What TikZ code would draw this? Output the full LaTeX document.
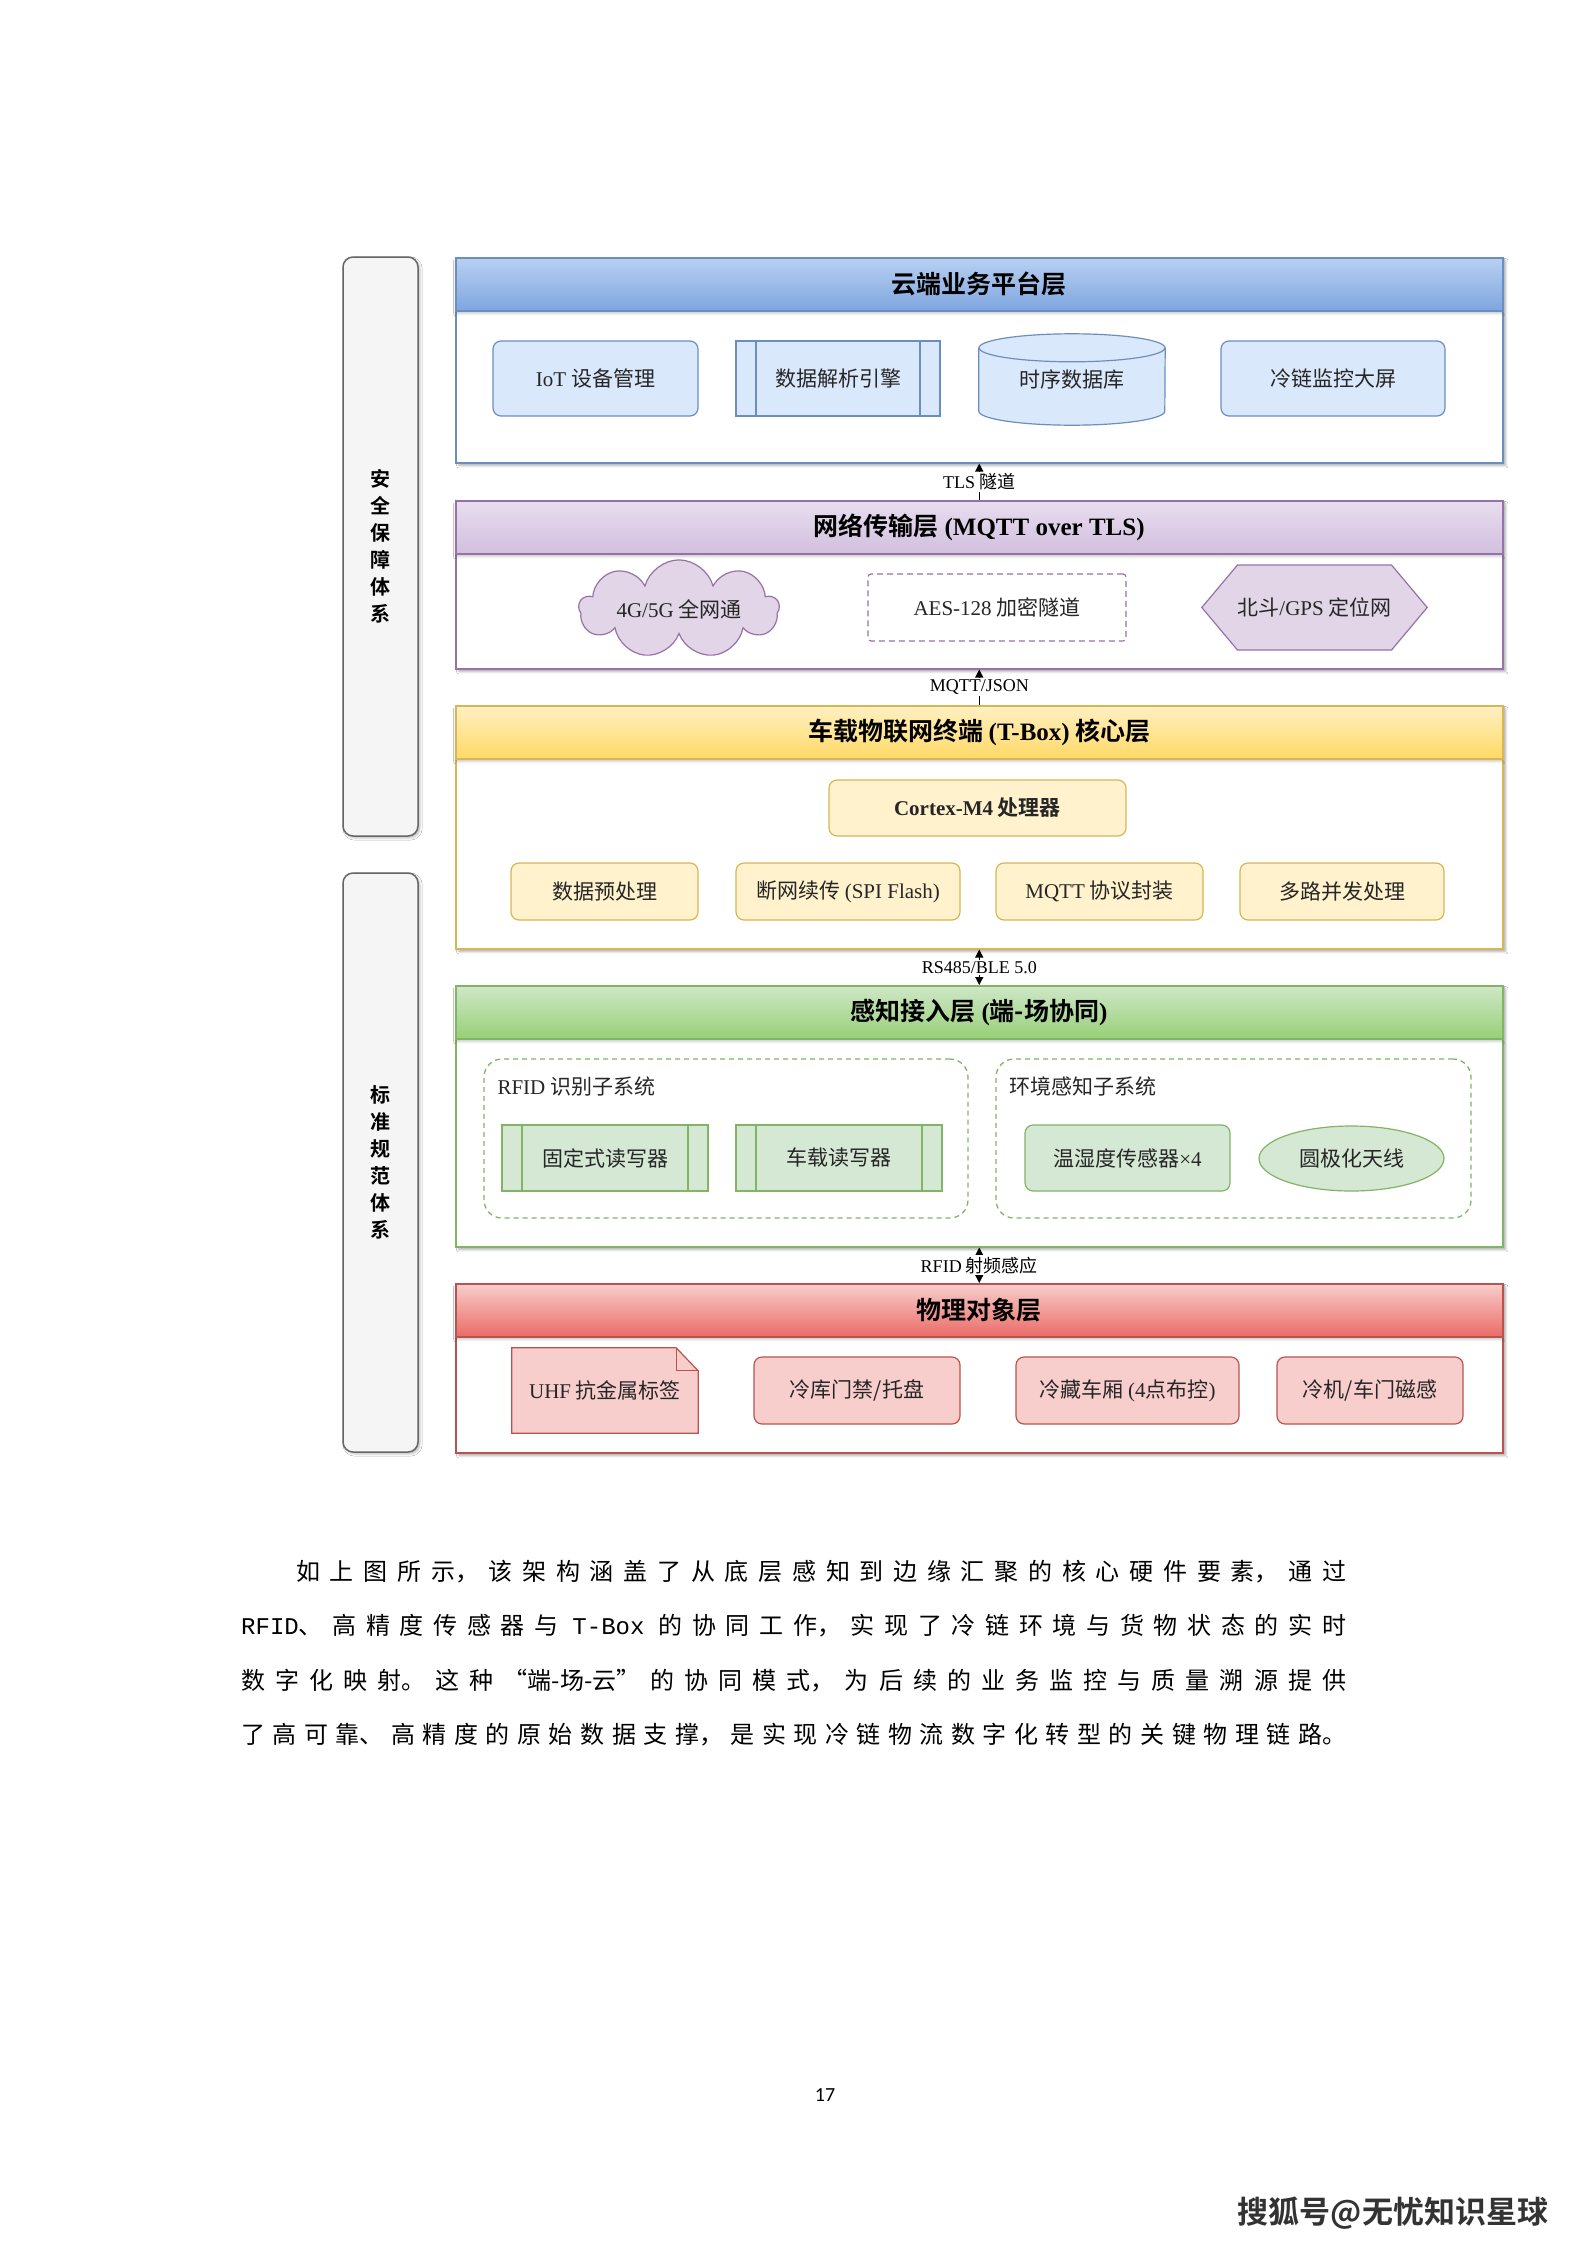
\documentclass[tikz,border=0pt]{standalone}
\usepackage{fontspec}
\setmainfont{Noto Sans CJK SC}[BoldFont={Noto Sans CJK SC Bold}]
\newfontfamily\enfont{Liberation Serif}
\newfontfamily\codefont{Liberation Mono}
\newfontfamily\pagefont{Carlito}
\definecolor{blueline}{HTML}{6C8EBF}
\definecolor{bluefill}{HTML}{DAE8FC}
\definecolor{bluetop}{HTML}{B9D0F1}
\definecolor{bluebot}{HTML}{7EA6E0}
\definecolor{purpline}{HTML}{9673A6}
\definecolor{purpfill}{HTML}{E1D5E7}
\definecolor{purptop}{HTML}{E8DEEF}
\definecolor{purpbot}{HTML}{D2BFDE}
\definecolor{yelline}{HTML}{D6B656}
\definecolor{yelfill}{HTML}{FFF2CC}
\definecolor{yeltop}{HTML}{FFF0C2}
\definecolor{yelbot}{HTML}{FFD966}
\definecolor{grnline}{HTML}{82B366}
\definecolor{grnfill}{HTML}{D5E8D4}
\definecolor{grntop}{HTML}{CFE7C7}
\definecolor{grnbot}{HTML}{97D077}
\definecolor{redline}{HTML}{B85450}
\definecolor{redfill}{HTML}{F8CECC}
\definecolor{redtop}{HTML}{F8CECC}
\definecolor{redbot}{HTML}{EA6B66}
\definecolor{sideline}{HTML}{666666}
\definecolor{sidefill}{HTML}{F5F5F5}
\usetikzlibrary{positioning,shadows.blur,calc,shapes.symbols,shapes.geometric,arrows.meta}

\begin{document}
\begin{tikzpicture}[x=1pt, y=-1pt,
  tier/.style={draw=#1line, line width=1.5pt, fill=white, anchor=north west,
    minimum width=1047pt,
    blur shadow={shadow xshift=3pt, shadow yshift=-3pt, shadow blur steps=5, shadow opacity=30}},
  tierhead/.style={draw=#1line, line width=1.5pt, top color=#1top, bottom color=#1bot,
    anchor=north, minimum width=1047pt, minimum height=53pt,
    font=\fontsize{25pt}{30pt}\selectfont\bfseries,
    blur shadow={shadow xshift=0pt, shadow yshift=-3pt, shadow blur steps=4, shadow opacity=20}},
  unit/.style={draw=#1line, fill=#1fill, line width=1.2pt, rounded corners=8pt,
    inner sep=0pt, text=black!85, font=\fontsize{21pt}{25pt}\selectfont},
  procunit/.style={unit=#1, sharp corners,
    path picture={\draw[#1line, line width=1.2pt]
      ([xshift=20pt]path picture bounding box.north west) -- ([xshift=20pt]path picture bounding box.south west)
      ([xshift=-20pt]path picture bounding box.north east) -- ([xshift=-20pt]path picture bounding box.south east);}},
  netcloud/.style={shape=cloud, draw=purpline, fill=purpfill, line width=1.2pt,
    cloud puffs=9, aspect=3.2, inner sep=0pt, text=black!85,
    font=\fontsize{21pt}{25pt}\selectfont},
  hexnode/.style={shape=signal, signal to=west and east, signal pointer angle=100,
    draw=purpline, fill=purpfill, line width=1.2pt, inner sep=0pt, text=black!85,
    font=\fontsize{21pt}{25pt}\selectfont},
  tunnel/.style={draw=purpline, line width=1.2pt, dash pattern=on 6pt off 4pt,
    rounded corners=3pt, fill=white, text=black!85, font=\fontsize{21pt}{25pt}\selectfont},
  subsys/.style={draw=grnline, line width=1.3pt, dash pattern=on 5pt off 4pt, rounded corners=18pt},
  sublabel/.style={anchor=west, inner sep=0pt, text=black!85, font=\fontsize{21pt}{25pt}\selectfont},
  sidebar/.style={draw=sideline, fill=sidefill, line width=1.5pt, rounded corners=10pt,
    minimum width=75pt, minimum height=579pt, align=center,
    font=\fontsize{20pt}{27pt}\selectfont\bfseries,
    blur shadow={shadow xshift=2pt, shadow yshift=-2pt, shadow blur steps=4, shadow opacity=25}},
  conn/.style={draw=black, line width=1.2pt},
  connlabel/.style={fill=white, inner sep=1.5pt, font=\fontsize{18pt}{21pt}\selectfont}
]
  % 页面背景
  \fill[white] (0,0) rectangle (1587,2245);
  \useasboundingbox (0,0) rectangle (1587,2245);

  % 左侧两个支撑体系
  \node[sidebar] (secside) at (380.5,546.5) {安\\全\\保\\障\\体\\系};
  \node[sidebar] (stdside) at (380.5,1162.5) {标\\准\\规\\范\\体\\系};

  % 五个层框
  \node[tier=blue, minimum height=205pt] (cloudtier) at (455,257) {};
  \node[tier=purp, minimum height=168pt] (nettier) at (455,500) {};
  \node[tier=yel, minimum height=243pt] (tboxtier) at (455,705) {};
  \node[tier=grn, minimum height=261pt] (sensetier) at (455,985) {};
  \node[tier=red, minimum height=169pt] (phystier) at (455,1283) {};

  % 层标题栏
  \node[tierhead=blue] (cloudhead) at (cloudtier.north) {云端业务平台层};
  \node[tierhead=purp] (nethead) at (nettier.north) {网络传输层 {\enfont (MQTT over TLS)}};
  \node[tierhead=yel] (tboxhead) at (tboxtier.north) {车载物联网终端 {\enfont (T-Box)} 核心层};
  \node[tierhead=grn] (sensehead) at (sensetier.north) {感知接入层 {\enfont (}端-场协同{\enfont )}};
  \node[tierhead=red] (physhead) at (phystier.north) {物理对象层};

  % 云端业务平台层
  \node[unit=blue, minimum width=205pt, minimum height=75pt] (iot) at (595.5,378.5) {{\enfont IoT} 设备管理};
  \node[procunit=blue, minimum width=204pt, minimum height=75pt] (engine) at (838,378.5) {数据解析引擎};
  \node[minimum width=186pt, minimum height=91pt] (db) at (1072,379.5) {};
  \filldraw[fill=bluefill, draw=blueline, line width=1.2pt]
    ([yshift=-14pt]db.north west) -- ([yshift=14pt]db.south west)
    arc[start angle=180, end angle=360, x radius=93pt, y radius=14pt]
    -- ([yshift=-14pt]db.north east);
  \filldraw[fill=bluefill, draw=blueline, line width=1.2pt]
    ([yshift=-14pt]db.north) ellipse [x radius=93pt, y radius=14pt];
  \node[text=black!85, font=\fontsize{21pt}{25pt}\selectfont] (dbtext) at (db) {时序数据库};
  \node[unit=blue, minimum width=224pt, minimum height=75pt] (screen) at (1333,378.5) {冷链监控大屏};

  % 网络传输层
  \node[netcloud, minimum width=200pt, minimum height=64pt] (mobile) at (679,609) {{\enfont 4G/5G} 全网通};
  \node[tunnel, minimum width=258pt, minimum height=67pt] (aes) at (997,607.5) {{\enfont AES-128} 加密隧道};
  \node[hexnode, minimum width=223pt, minimum height=85pt] (gnss) at (1314.5,607.5) {北斗{\enfont /GPS} 定位网};

  % T-Box 核心层
  \node[unit=yel, minimum width=297pt, minimum height=56pt, font=\fontsize{21pt}{25pt}\selectfont\bfseries] (cpu) at (977.5,808) {{\enfont Cortex-M4} 处理器};
  \node[unit=yel, minimum width=187pt, minimum height=57pt] (prep) at (604.5,891.5) {数据预处理};
  \node[unit=yel, minimum width=224pt, minimum height=57pt] (resume) at (848,891.5) {断网续传 {\enfont (SPI Flash)}};
  \node[unit=yel, minimum width=207pt, minimum height=57pt] (mqttpack) at (1099.5,891.5) {{\enfont MQTT} 协议封装};
  \node[unit=yel, minimum width=204pt, minimum height=57pt] (multi) at (1342,891.5) {多路并发处理};

  % 感知接入层
  \node[subsys, minimum width=484pt, minimum height=159pt] (rfidsys) at (726,1138.5) {};
  \node[subsys, minimum width=475pt, minimum height=159pt] (envsys) at (1233.5,1138.5) {};
  \node[sublabel] (rfidlbl) at ([xshift=14pt, yshift=-28pt]rfidsys.north west) {{\enfont RFID} 识别子系统};
  \node[sublabel] (envlbl) at ([xshift=14pt, yshift=-28pt]envsys.north west) {环境感知子系统};
  \node[procunit=grn, minimum width=206pt, minimum height=66pt] (fixreader) at (605,1158) {固定式读写器};
  \node[procunit=grn, minimum width=206pt, minimum height=66pt] (carreader) at (839,1158) {车载读写器};
  \node[unit=grn, minimum width=205pt, minimum height=66pt] (thsensor) at (1127.5,1158) {温湿度传感器{\enfont ×4}};
  \node[unit=grn, shape=ellipse, minimum width=185pt, minimum height=65pt] (antenna) at (1351.5,1158.5) {圆极化天线};

  % 物理对象层
  \node[minimum width=186pt, minimum height=85pt] (tag) at (605,1390.5) {};
  \filldraw[fill=redfill, draw=redline, line width=1.2pt]
    (tag.north west) -- ([xshift=-22pt]tag.north east) -- ([yshift=-23pt]tag.north east)
    -- (tag.south east) -- (tag.south west) -- cycle;
  \draw[redline, line width=1.2pt]
    ([xshift=-22pt]tag.north east) -- ([xshift=-22pt, yshift=-23pt]tag.north east) -- ([yshift=-23pt]tag.north east);
  \node[text=black!85, font=\fontsize{21pt}{25pt}\selectfont] (tagtext) at (tag) {{\enfont UHF} 抗金属标签};
  \node[unit=red, minimum width=206pt, minimum height=67pt] (store) at (857,1390.5) {冷库门禁/托盘};
  \node[unit=red, minimum width=223pt, minimum height=67pt] (carbox) at (1127.5,1390.5) {冷藏车厢 {\enfont (4}点布控{\enfont )}};
  \node[unit=red, minimum width=186pt, minimum height=67pt] (door) at (1370,1390.5) {冷机/车门磁感};

  % 层间连接
  \draw[conn, -{Triangle[length=8pt, width=8pt]}] (nettier.north) -- (cloudtier.south);
  \node[connlabel] (tlslbl) at ($(nettier.north)!0.5!(cloudtier.south)$) {{\enfont TLS} 隧道};
  \draw[conn, -{Triangle[length=8pt, width=8pt]}] (tboxtier.north) -- (nettier.south);
  \node[connlabel] (jsonlbl) at ($(tboxtier.north)!0.5!(nettier.south)$) {{\enfont MQTT/JSON}};
  \draw[conn, {Triangle[length=8pt, width=8pt]}-{Triangle[length=8pt, width=8pt]}] (sensetier.north) -- (tboxtier.south);
  \node[connlabel] (blelbl) at ($(sensetier.north)!0.5!(tboxtier.south)$) {{\enfont RS485/BLE 5.0}};
  \draw[conn, {Triangle[length=8pt, width=8pt]}-{Triangle[length=8pt, width=8pt]}] (phystier.north) -- (sensetier.south);
  \node[connlabel] (rfidconn) at ($(phystier.north)!0.5!(sensetier.south)$) {{\enfont RFID} 射频感应};

  % 页码与水印署名
  \node[font=\pagefont\fontsize{20pt}{24pt}\selectfont] (pgnum) at (825,2095) {17};
  \node[font=\fontsize{31pt}{36pt}\selectfont\bfseries, text=black!80] (sohu) at (1393,2213) {搜狐号@无忧知识星球};

  % 正文段落
  \node[anchor=north west, inner sep=0pt, text width=1105pt, align=justify,
        font=\fontsize{24pt}{54.5pt}\selectfont] (para) at (241,1560) {%
    \XeTeXlinebreaklocale "zh"\XeTeXlinebreakskip=4pt plus 14pt minus 2pt\relax
    \hspace*{55pt}如上图所示，该架构涵盖了从底层感知到边缘汇聚的核心硬件要素，通过\linebreak
    {\codefont RFID}、高精度传感器与\hspace{14pt}{\codefont T-Box}\hspace{14pt}的协同工作，实现了冷链环境与货物状态的实时\linebreak
    数字化映射。这种“端-场-云”的协同模式，为后续的业务监控与质量溯源提供\linebreak
    了高可靠、高精度的原始数据支撑，是实现冷链物流数字化转型的关键物理链路。\linebreak};
\end{tikzpicture}
\end{document}
